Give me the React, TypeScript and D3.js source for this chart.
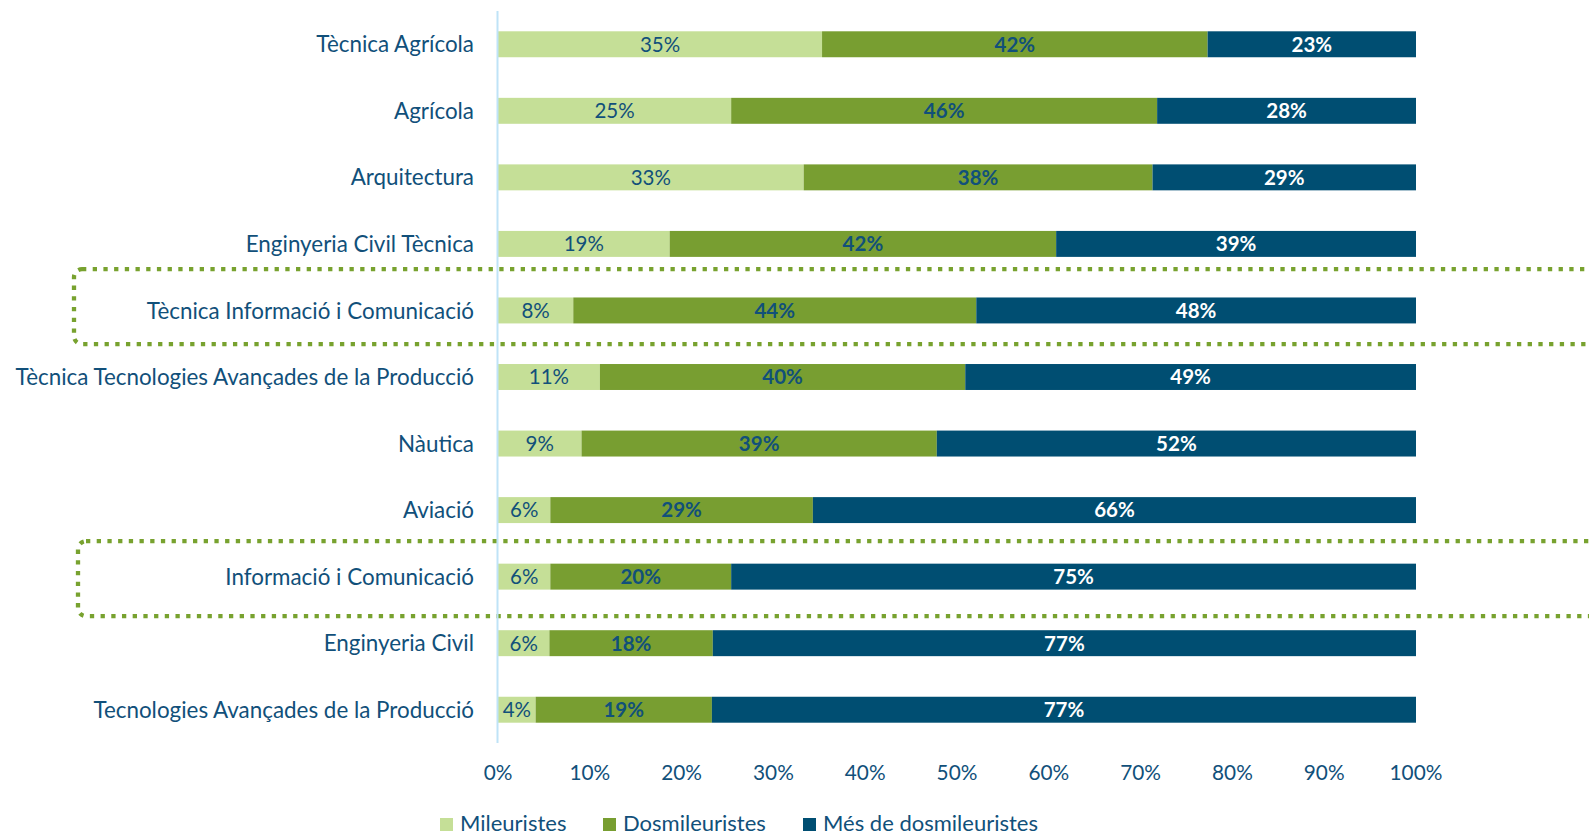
import React, { useEffect } from 'react'
import * as d3 from 'd3'

// categories, top to bottom
const categories = [
  'Tècnica Agrícola',
  'Agrícola',
  'Arquitectura',
  'Enginyeria Civil Tècnica',
  'Tècnica Informació i Comunicació',
  'Tècnica Tecnologies Avançades de la Producció',
  'Nàutica',
  'Aviació',
  'Informació i Comunicació',
  'Enginyeria Civil',
  'Tecnologies Avançades de la Producció',
]

// percentages
const mileuristes = [35.3, 25.4, 33.3, 18.7, 8.2, 11.1, 9.1, 5.7, 5.7, 5.6, 4.1]
const dosmileuristes = [42.0, 46.4, 38.0, 42.1, 43.9, 39.8, 38.7, 28.6, 19.7, 17.8, 19.2]
const mesDosmileuristes = [22.7, 28.2, 28.7, 39.2, 47.9, 49.1, 52.2, 65.7, 74.6, 76.6, 76.7]

const seriesNames = ['Mileuristes', 'Dosmileuristes', 'Més de dosmileuristes']
const xTicks = [0, 10, 20, 30, 40, 50, 60, 70, 80, 90, 100]
const highlighted = ['Tècnica Informació i Comunicació', 'Informació i Comunicació']

const W = 1589
const H = 836
const FONT = 'Lato, "Noto Sans", sans-serif'
const TEXT = '#11507a'
const colors = ['#c5df97', '#789e31', '#004e72']
const labelColors = [TEXT, TEXT, '#ffffff']
const labelWeights = [400, 700, 700]

// the hand-drawn boxes are not exactly centred on their bars
const boxLeft = [74, 78]
const boxShift = [-3.8, 2]

export default function App() {
  useEffect(() => {
    document.body.style.margin = '0'
  }, [])

  const x = d3.scaleLinear().domain([0, 100]).range([498, 1416])
  const y = d3.scaleBand<string>()
    .domain(categories)
    .range([11, 743])
    .paddingInner(0.61)
    .paddingOuter(0.305)

  const rows = categories.map((c, i) => ({
    cat: c,
    [seriesNames[0]]: mileuristes[i],
    [seriesNames[1]]: dosmileuristes[i],
    [seriesNames[2]]: mesDosmileuristes[i],
  }))
  const stacked = d3.stack<any>().keys(seriesNames)(rows)

  const legendX = [440, 603, 803]

  return (
    <svg width={W} height={H} style={{ display: 'block' }} fontFamily={FONT}>
      {/* highlight boxes */}
      {highlighted.map((c, i) => {
        const cy = (y(c) ?? 0) + y.bandwidth() / 2 + boxShift[i]
        const left = boxLeft[i]
        return (
          <rect key={c} x={left} y={cy - 37.5} width={W + 40 - left} height={75}
            rx={8} fill="none" stroke="#78a22f" strokeWidth={4.3} strokeDasharray="4.3 6.4" />
        )
      })}

      {/* bars */}
      {stacked.map((s, si) => (
        <g key={s.key}>
          {s.map((d, i) => {
            const x0 = x(d[0])
            const x1 = x(d[1])
            const v = d[1] - d[0]
            return (
              <g key={i}>
                <rect x={x0} y={y(categories[i])} width={x1 - x0} height={y.bandwidth()} fill={colors[si]} />
                <text x={(x0 + x1) / 2} y={(y(categories[i]) ?? 0) + y.bandwidth() / 2} dy="0.36em"
                  textAnchor="middle" fontSize={20.5} fill={labelColors[si]} fontWeight={labelWeights[si]}>
                  {Math.round(v)}%
                </text>
              </g>
            )
          })}
        </g>
      ))}

      {/* vertical axis */}
      <line x1={x(0) - 0.5} x2={x(0) - 0.5} y1={11} y2={743} stroke="#bfe3f7" strokeWidth={2} />

      {/* category labels */}
      {categories.map(c => (
        <text key={c} x={474} y={(y(c) ?? 0) + y.bandwidth() / 2} dy="0.36em" textAnchor="end"
          fontSize={22.4} fill={TEXT}>{c}</text>
      ))}

      {/* x tick labels */}
      {xTicks.map(t => (
        <text key={t} x={x(t)} y={773} dy="0.36em" textAnchor="middle" fontSize={20.8} fill={TEXT}>{t}%</text>
      ))}

      {/* legend */}
      {seriesNames.map((n, i) => (
        <g key={n} transform={`translate(${legendX[i]},823)`}>
          <rect x={0} y={-5} width={13} height={13} fill={colors[i]} />
          <text x={20} y={0} dy="0.36em" fontSize={22} fill={TEXT}>{n}</text>
        </g>
      ))}
    </svg>
  )
}
